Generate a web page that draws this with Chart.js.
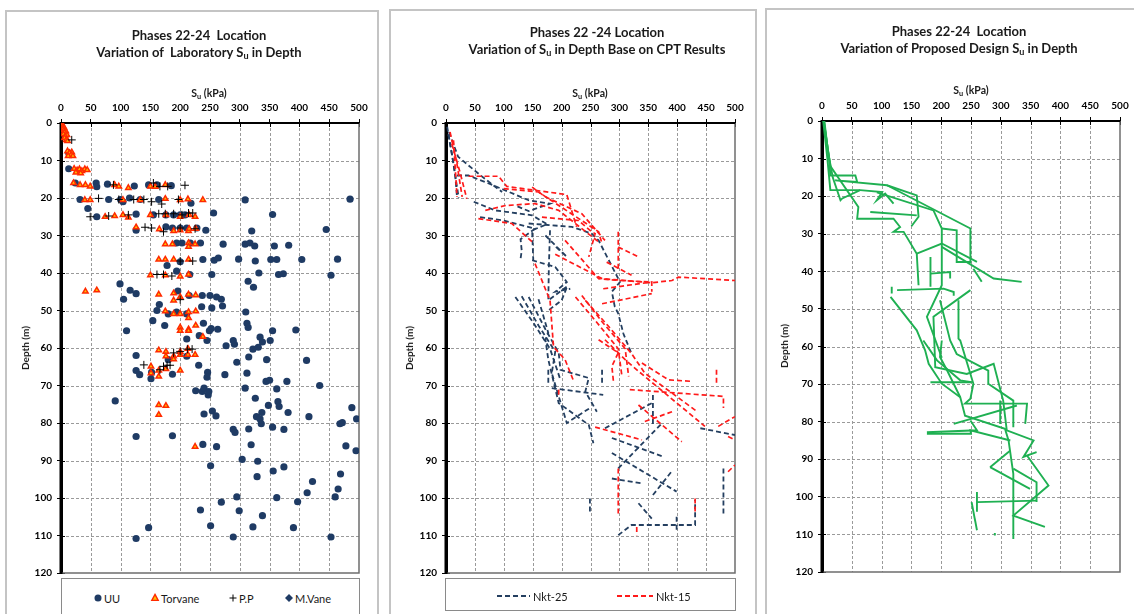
<!DOCTYPE html>
<html>
<head>
<meta charset="utf-8">
<script src="https://cdn.jsdelivr.net/npm/chart.js@4.4.1/dist/chart.umd.min.js"></script>
<style>
  body { margin:0; background:#fff; width:1134px; height:614px; overflow:hidden; position:relative; font-family:Lato, "Liberation Sans", sans-serif; color:#1a1a1a; }
  .panel { position:absolute; border:2px solid #c4c4c4; box-sizing:border-box; }
  canvas { position:absolute; top:0; }
  .t { position:absolute; transform:translate(-50%,-50%); white-space:pre; font-weight:bold; }
  .title { font-size:13px; }
  .axt { font-size:10.5px; }
  .depth { position:absolute; transform:translate(-50%,-50%) rotate(-90deg); font-size:10px; font-weight:bold; white-space:pre; }
  sub { font-size:70%; vertical-align:-2px; line-height:0; }
  .legend { position:absolute; border:1.5px solid #8a8a8a; box-sizing:border-box; background:#fff; }
  .li { position:absolute; font-size:11px; transform:translateY(-50%); white-space:pre; }
  svg { position:absolute; overflow:visible; }
</style>
</head>
<body>
<div class="panel" style="left:5px;top:10px;width:374px;height:620px"></div>
<div class="panel" style="left:389px;top:9px;width:368px;height:620px"></div>
<div class="panel" style="left:765px;top:8px;width:380px;height:620px"></div>

<canvas id="c1" width="370" height="614" style="left:6px"></canvas>
<canvas id="c2" width="363" height="614" style="left:391px"></canvas>
<canvas id="c3" width="368" height="614" style="left:766px"></canvas>

<div class="t title" style="left:199px;top:35px">Phases 22-24  Location</div>
<div class="t title" style="left:199px;top:52px">Variation of  Laboratory S<sub>u</sub> in Depth</div>
<div class="t axt" style="left:209px;top:93px">S<sub>u</sub> (kPa)</div>
<div class="depth" style="left:25px;top:348px">Depth (m)</div>

<div class="t title" style="left:597px;top:32px">Phases 22 -24 Location</div>
<div class="t title" style="left:597px;top:49px">Variation of S<sub>u</sub> in Depth Base on CPT Results</div>
<div class="t axt" style="left:590px;top:93px">S<sub>u</sub> (kPa)</div>
<div class="depth" style="left:409px;top:348px">Depth (m)</div>

<div class="t title" style="left:959px;top:31px">Phases 22-24  Location</div>
<div class="t title" style="left:959px;top:48px">Variation of Proposed Design S<sub>u</sub> in Depth</div>
<div class="t axt" style="left:971px;top:90px">S<sub>u</sub> (kPa)</div>
<div class="depth" style="left:784px;top:346px">Depth (m)</div>

<div class="legend" style="left:61px;top:578px;width:299px;height:40px"></div>
<svg style="left:98px;top:598px" width="1" height="1"><circle cx="0" cy="0" r="3.5" fill="#1f3b64"/></svg>
<div class="li" style="left:104px;top:598px">UU</div>
<svg style="left:155px;top:598px" width="1" height="1"><polygon points="0,-3.6 3.2,2.4 -3.2,2.4" fill="#ffc000" stroke="#ff2a00" stroke-width="1.4"/></svg>
<div class="li" style="left:161px;top:598px">Torvane</div>
<svg style="left:233px;top:598px" width="1" height="1"><path d="M-3.5,0H3.5M0,-3.5V3.5" stroke="#000" stroke-width="1"/></svg>
<div class="li" style="left:239px;top:598px">P.P</div>
<svg style="left:289px;top:598px" width="1" height="1"><polygon points="0,-4 4,0 0,4 -4,0" fill="#1f3b64"/></svg>
<div class="li" style="left:295px;top:598px">M.Vane</div>

<div class="legend" style="left:445px;top:578px;width:291px;height:33px"></div>
<svg style="left:497px;top:596px" width="1" height="1"><path d="M0,0H33" stroke="#243f60" stroke-width="2" stroke-dasharray="5,3"/></svg>
<div class="li" style="left:533px;top:596px">Nkt-25</div>
<svg style="left:617px;top:596px" width="1" height="1"><path d="M0,0H36" stroke="#ff1a1a" stroke-width="2" stroke-dasharray="5,3"/></svg>
<div class="li" style="left:656px;top:596px">Nkt-15</div>

<script>
// axis ticks
const suTicks = [0, 50, 100, 150, 200, 250, 300, 350, 400, 450, 500];
const depthTicks = [0, 10, 20, 30, 40, 50, 60, 70, 80, 90, 100, 110, 120];

// panel 1 : laboratory Su, [kPa, depth m]
const uuPoints = [
  [13,8],[13,12.2],[24,16],[59,16],[60,17],[78,16.3],[123,16.8],[147,16.5],[161,16.5],[185,16.7],
  [32,20.4],[80,20.4],[100,20.4],[104,21],[115,20],[133,20.4],[164,20.4],[218,21.4],[309,20.5],[485,20.3],
  [45,22.8],[60,25],[126,24.3],[155,24.5],[176,24.5],[189,24.5],[200,24.5],[208,24.5],[256,24],[355,24.4],
  [126,28.6],[176,27.7],[187,28],[200,28],[211,28],[228,28],[243,28.6],[320,28.8],[445,28.4],
  [194,32],[203,32],[217,32],[234,32],[272,32.3],[309,32.3],[317,32],[325,32.8],[358,32.8],[382,32.6],
  [178,38],[200,37],[238,36.4],[257,36.6],[264,36],[298,36.3],[326,36.8],[352,36.4],[362,36.4],[404,36.4],[464,36.3],
  [194,39.5],[216,40.4],[253,40.4],[332,40],[365,40.4],[373,40.2],[453,40.6],
  [99,42.9],[116,44.6],[126,45.5],[105,47],[314,42.2],[323,43.8],
  [196,44.8],[215,46],[237,46],[250,46],[261,46.4],[269,47],[271,48.8],[236,49],[253,49.3],[165,48.4],
  [161,50],[180,50.9],[194,50.4],[211,50.9],[310,50.4],
  [154,52.7],[174,54],[110,55.4],[239,53.4],[249,55.4],[252,54.8],[263,55],[312,53.4],[314,54.5],[355,55.4],[394,55.2],
  [211,57.6],[232,56.7],[245,58],[277,59.4],[289,58],[291,59],[334,57.1],[338,58.4],[351,58],[331,59.8],
  [126,62],[126,66],[132,67.1],[152,66.5],[151,68.2],[91,74.1],[180,63.1],[187,67],[211,62.2],[231,64.6],
  [246,66.5],[245,67.8],[226,71.4],[237,71.6],[240,70.7],[247,72.5],[248,71.6],[275,67.1],[295,63.8],[315,62.4],
  [312,66.7],[309,70.7],[322,60.3],[326,73.4],[345,63.1],[344,68.9],[350,68.6],[348,75.3],[362,70.9],[364,74.3],
  [366,75.6],[379,68.9],[381,77.2],[412,63.3],[434,70],[416,78.3],[488,75.9],[496,78.9],[468,80.2],[472,79.9],
  [478,86.1],[495,87.4],[240,77.6],[254,76.8],[260,78.1],[328,78.3],[337,77.2],[334,78.9],[336,80.2],[289,81.7],
  [292,82.5],[315,81.6],[355,81.1],[374,81.7],[319,85.8],[238,85.7],[261,86.3],[187,83.4],[126,83.6],[304,89.7],
  [330,90.2],[251,91.4],[356,92.8],[374,91.7],[469,93.6],[422,95.6],[465,97.6],[460,99.7],[413,98.6],[329,94.3],
  [295,99.7],[362,99.9],[269,101.1],[397,101],[299,103.4],[234,103.2],[251,107.4],[338,104.7],[322,107.7],[390,107.9],
  [147,107.9],[126,110.8],[289,110.4],[453,110.4]
];
const torvanePoints = [
  [2,0.5],[3,1],[5,1.2],[4,1.5],[5,2],[8,2.2],[6,2.5],[4,3],[10,3.2],[7,3.5],[6,4],[9,4.5],[11,4.8],
  [11,7.5],[18,7.8],[14,8],[17,8.5],[20,8.8],[12,8.8],
  [22,12.2],[27,12.6],[31,12.3],[35,12.8],[40,12.3],[44,12.5],[25,13.2],[33,13.4],
  [21,16],[32,16.5],[41,16.5],[49,16.9],[90,16.5],[97,16.9],[113,17.3],[150,16.9],[175,16.5],[158,17],
  [40,20.5],[49,20.5],[104,20.5],[133,20.5],[175,20.2],[213,20.3],[238,20.5],[200,20.5],
  [74,25],[90,24.8],[104,24.5],[113,25.2],[150,24.5],[176,24.5],[200,25],[215,24.5],[225,25],
  [126,27.8],[165,28.3],[189,28.8],[200,28.6],[214,28.8],[215,28.2],[226,28.2],
  [175,32.3],[187,32.3],[214,32],[214,33],[225,32.3],
  [164,36.4],[175,36.4],[189,36.4],[214,36.4],
  [150,40.6],[175,40.6],[200,40.9],[214,40.4],[41,44.9],[60,44.6],
  [164,45.7],[189,45.4],[200,46.4],[214,45.7],[226,45.9],[189,47.3],
  [175,50.2],[189,50.9],[200,50.9],[214,50.4],[226,50.2],[214,52],
  [200,54.5],[214,55],[200,55.4],[214,55.4],[226,54],[238,57],
  [164,60.6],[176,61],[176,62.2],[189,62.2],[189,63],[200,61],[200,61.8],[213,61.8],[225,61.8],[213,60.2],
  [151,64.9],[151,66.7],[164,66],[164,67.6],[176,65.6],[200,66],[164,75.2],[176,75.4],[164,77.8],[225,86.3]
];
const ppPoints = [
  [18,4.5],[88,16.5],[155,16],[166,16.9],[179,16.9],[208,16.6],
  [63,20.1],[97,20.4],[122,20.4],[139,20.4],[152,21],[169,21.6],[197,20.4],
  [49,25],[80,24.8],[113,24.5],[164,24.2],[175,24.2],[189,24.2],[203,24.5],[214,24],[221,24],
  [141,27.8],[152,28],[172,29],[200,28],[225,28.2],[200,36.8],[221,36.8],
  [161,40.4],[172,40.4],[186,40.8],[200,47.1],
  [189,61.3],[200,60.9],[212,60.3],[220,60.3],[172,64.9],[178,64.6],[183,64.6],[166,65.8],[139,64.5]
];
const mVanePoints = [];

// panel 2 : CPT profiles, [kPa, depth m]
const nkt25Profiles = [
  [[2,1],[10,8],[16,14],[19,19.7]],
  [[4,3],[12,10],[18,16],[22,20]],
  [[5,2.4],[21,9],[60,14],[97,18.4]],
  [[19,14],[39,14],[80,16.5],[143,20.6],[180,21.5],[143,23.5],[120,22]],
  [[48,21],[85,23.3],[149,24.6],[175,27],[149,28.6],[151,36.6]],
  [[59,25.1],[100,26],[154,28.2],[129,31],[131,34],[129,36.2]],
  [[143,26.8],[218,27.7],[252,29.5],[264,31.3],[301,42.4],[287,45],[292,49],[298,50.8],[307,56.2],[321,61.5]],
  [[180,28.6],[178,38],[177,47.3],[210,43.5],[200,47.3],[177,50]],
  [[149,36.6],[189,38.4],[209,42.4],[189,45],[215,44.2]],
  [[172,30],[209,35.7],[190,33]],
  [[120,46.4],[150,53],[180,60.2],[198,68.5]],
  [[131,46.2],[160,54],[189,61],[183,66.7],[195,72.9],[209,80],[249,76]],
  [[143,46.4],[172,55],[195,61.3],[198,65.8],[247,68],[241,71.6],[261,77]],
  [[160,47],[177,56],[172,57.8],[177,63.1],[195,74.7],[247,80.5],[255,85.4]],
  [[177,65.8],[177,69.4]],
  [[183,70.7],[272,72.5]],
  [[270,65.8],[270,69.4]],
  [[275,81.4],[356,74.7]],
  [[358,72.5],[358,81]],
  [[298,92.1],[374,80]],
  [[287,84],[376,89]],
  [[287,88],[399,98.3]],
  [[287,94.8],[339,96.1]],
  [[358,99.2],[390,93]],
  [[333,101.4],[356,105.5]],
  [[298,109.9],[321,107.2],[431,107.2],[431,100.5]],
  [[399,105],[399,108.6]],
  [[249,100.1],[249,103.7]],
  [[480,92.1],[480,104.1]],
  [[440,81.4],[500,83.2]]
];
const nkt15Profiles = [
  [[7,2.4],[18,10],[28,19.7]],
  [[10,5.5],[24,13],[36,20.2]],
  [[13,4.6],[16,12],[19,19.7]],
  [[39,14.2],[91,14.2],[105,16.9],[209,19.1],[226,27.7]],
  [[100,17.5],[160,18.4],[264,29],[270,32.2]],
  [[149,17.1],[172,19.7],[235,24.2],[275,31.3]],
  [[56,25.5],[114,26.8],[149,31.7]],
  [[68,23.3],[103,22],[154,21.5],[195,23.3],[264,31.7]],
  [[166,25.1],[229,26],[252,29],[258,29.5],[247,35.7]],
  [[298,29],[298,39.3]],
  [[298,33.1],[333,35.7]],
  [[278,37.1],[321,40.6]],
  [[206,31.3],[264,41.5],[300,42],[356,42.4]],
  [[189,35],[270,41.5],[356,42.6],[391,42],[402,41.1],[500,42]],
  [[272,44.2],[356,42.4],[356,45]],
  [[270,48.2],[356,45.5]],
  [[224,46.4],[260,53],[298,60.2],[304,67.1]],
  [[235,46],[270,53],[310,60.2],[316,67.6]],
  [[241,47.3],[280,54],[321,61.5],[344,66.7],[434,76.9]],
  [[154,37.5],[180,47.3],[186,59.7],[206,63.1],[221,68.9]],
  [[264,57.8],[298,61.3],[287,64.9],[290,69.4]],
  [[275,57.8],[310,63.1],[333,66.2],[448,80.9]],
  [[339,64],[385,68.5],[425,68.9]],
  [[318,71.1],[480,72.9],[480,76]],
  [[471,80.9],[500,78.3]],
  [[488,83.6],[500,84.5]],
  [[488,93],[500,91.2]],
  [[468,65.8],[468,69.4]],
  [[258,81.1],[339,84.5]],
  [[333,75.2],[408,85]],
  [[344,79.6],[391,77]],
  [[298,92.1],[298,104.1]],
  [[431,100.1],[431,103.7]],
  [[330,107.7],[330,109.9]],
  [[195,71.1],[195,72.5]]
];

// panel 3 : proposed design profiles, [kPa, depth m]
const designProfiles = [
  [[3,0],[12,10],[14,14.5],[56,14.5],[59,16.2],[22,15.8],[109,17.1],[159,19.8],[162,25.5],[150,28]],
  [[2,0],[9,10],[14,18.4],[64,18.4],[101,18.9],[92,21.1],[106,19.3],[120,22]],
  [[4,0],[10,8],[18,15],[31,21.1],[34,20.6],[64,18.4]],
  [[3,0],[14,12],[61,22.9],[59,26],[120,26],[131,28.2],[120,29.5],[137,29.5],[159,35.3],[162,43.7]],
  [[81,24.2],[159,25.1]],
  [[109,17.1],[249,28.6],[249,37.5],[226,37.5],[226,29.1],[201,28.6]],
  [[92,19],[187,23.8],[201,28.6],[201,43.7],[176,52.1],[201,63]],
  [[159,35.3],[201,32.6],[260,37.5]],
  [[201,33.5],[288,41.9],[335,42.8]],
  [[182,36.2],[182,44.1]],
  [[182,40.6],[215,40.2],[215,41.9]],
  [[254,39.3],[268,42.8]],
  [[117,44.1],[117,45.9]],
  [[126,45],[204,44.6],[221,45.5],[221,46.5]],
  [[115,46.8],[159,55.7],[173,61],[179,64.6],[201,69.9],[232,73.5],[240,78.4],[307,81.9],[313,85],[321,93.9],[321,111.2]],
  [[249,45],[187,52.1],[190,65.5],[243,67.3],[288,64.6],[304,74.4],[310,82.3],[355,85],[338,89.4],[360,88.1],[344,89],[380,97],[321,105],[374,108]],
  [[229,47.7],[229,57.9],[232,58.4],[254,69.9],[249,73.9],[240,75.2],[344,75.2],[341,80.6]],
  [[198,47.7],[215,58.4],[226,62],[279,66.4],[279,69.9],[321,74.4],[321,81.5]],
  [[170,58.4],[193,63.7],[232,69],[251,69.5]],
  [[182,69.5],[251,69.5]],
  [[201,58.4],[198,62.8],[210,66.4],[232,73.5]],
  [[221,80.6],[327,75.7]],
  [[299,74.4],[299,80.6]],
  [[176,82.8],[260,82.3],[249,79.7]],
  [[176,83.2],[250,83.2],[249,82.3],[316,85]],
  [[282,92.1],[316,87.7]],
  [[321,92.5],[360,96.1],[360,101.4]],
  [[282,92.1],[349,97.9]],
  [[260,101.4],[360,101]],
  [[260,98.7],[260,104]],
  [[251,101.4],[260,108.9]],
  [[290,109.6],[290,110.3]]
];

const FONT = 'Lato, "Liberation Sans", sans-serif';

// dashed grid, frame and crossing tick marks, drawn from the chart's own scales
const framePlugin = {
  id: 'frame',
  beforeDatasetsDraw(chart) {
    const { ctx, chartArea: a, scales: { x, y } } = chart;
    ctx.save();
    ctx.strokeStyle = '#9a9a9a';
    ctx.lineWidth = 1;
    ctx.setLineDash([3, 2]);
    ctx.beginPath();
    suTicks.slice(1, -1).forEach(v => {
      const px = Math.round(x.getPixelForValue(v)) + 0.5;
      ctx.moveTo(px, a.top); ctx.lineTo(px, a.bottom);
    });
    depthTicks.slice(1, -1).forEach(v => {
      const py = Math.round(y.getPixelForValue(v)) + 0.5;
      ctx.moveTo(a.left, py); ctx.lineTo(a.right, py);
    });
    ctx.stroke();
    ctx.setLineDash([]);
    // small inner half of tick marks
    ctx.strokeStyle = '#000';
    ctx.beginPath();
    suTicks.forEach(v => {
      const px = Math.round(x.getPixelForValue(v)) + 0.5;
      ctx.moveTo(px, a.top); ctx.lineTo(px, a.top + 4);
    });
    depthTicks.forEach(v => {
      const py = Math.round(y.getPixelForValue(v)) + 0.5;
      ctx.moveTo(a.left, py); ctx.lineTo(a.left + 4, py);
    });
    ctx.stroke();
    ctx.strokeStyle = '#6e6e6e';
    ctx.lineWidth = 1.5;
    ctx.beginPath();
    ctx.moveTo(a.right, a.top);
    ctx.lineTo(a.right, a.bottom);
    ctx.lineTo(a.left, a.bottom);
    ctx.stroke();
    ctx.strokeStyle = '#000';
    ctx.lineWidth = 3;
    ctx.beginPath();
    ctx.moveTo(a.left, a.top - 1);
    ctx.lineTo(a.left, a.bottom + 1);
    ctx.stroke();
    ctx.lineWidth = 2;
    ctx.beginPath();
    ctx.moveTo(a.left, a.top);
    ctx.lineTo(a.right, a.top);
    ctx.stroke();
    ctx.restore();
  }
};

function makeScales(yWidth, xHeight) {
  const tickFont = { family: FONT, size: 10, weight: 'bold' };
  return {
    x: {
      type: 'linear', position: 'top', min: 0, max: 500,
      afterBuildTicks: s => { s.ticks = suTicks.map(v => ({ value: v })); },
      ticks: { font: tickFont, color: '#000', padding: 5 },
      grid: { drawOnChartArea: false, tickColor: '#000', tickLength: 4 },
      border: { display: true, color: '#000', width: 2 },
      afterFit: s => { s.height = xHeight; }
    },
    y: {
      type: 'linear', reverse: true, min: 0, max: 120,
      afterBuildTicks: s => { s.ticks = depthTicks.map(v => ({ value: v })); },
      ticks: { font: tickFont, color: '#000', padding: 5 },
      grid: { drawOnChartArea: false, tickColor: '#000', tickLength: 4 },
      border: { display: true, color: '#000', width: 3 },
      afterFit: s => { s.width = yWidth; }
    }
  };
}

function toXY(list) {
  return list.map(p => ({ x: p[0], y: p[1] }));
}

function profileSets(profiles, color, dash, width) {
  return profiles.map(p => ({
    data: toXY(p), showLine: true, borderColor: color, borderWidth: width,
    borderDash: dash, pointRadius: 0, fill: false, tension: 0
  }));
}

function makeChart(id, datasets, yWidth, xHeight, padding) {
  return new Chart(document.getElementById(id), {
    type: 'scatter',
    data: { datasets },
    options: {
      responsive: false, animation: false, devicePixelRatio: 1,
      layout: { padding },
      plugins: { legend: { display: false }, tooltip: { enabled: false }, title: { display: false } },
      scales: makeScales(yWidth, xHeight)
    },
    plugins: [framePlugin]
  });
}

makeChart('c1', [
  { label: 'UU', data: toXY(uuPoints), pointStyle: 'circle', pointRadius: 3.6,
    backgroundColor: '#1f3b64', borderColor: '#1f3b64', borderWidth: 0, order: 3 },
  { label: 'Torvane', data: toXY(torvanePoints), pointStyle: 'triangle', pointRadius: 3.1,
    backgroundColor: '#ffc000', borderColor: '#ff2a00', borderWidth: 1.5, order: 2 },
  { label: 'P.P', data: toXY(ppPoints), pointStyle: 'cross', pointRadius: 4,
    borderColor: '#000', borderWidth: 1, order: 1 },
  { label: 'M.Vane', data: toXY(mVanePoints), pointStyle: 'rectRot', pointRadius: 4,
    backgroundColor: '#1f3b64', borderColor: '#1f3b64', order: 0 }
], 55, 123, { left: 0, right: 17, top: 0, bottom: 41 });

makeChart('c2',
  profileSets(nkt15Profiles, '#ff1a1a', [5, 3], 1.7).concat(profileSets(nkt25Profiles, '#243f60', [5, 3], 1.8)),
  55, 123, { left: 0, right: 19, top: 0, bottom: 41 });

makeChart('c3',
  profileSets(designProfiles, '#1fb052', [], 1.9),
  56, 121, { left: 0, right: 14, top: 0, bottom: 42 });
</script>
</body>
</html>
